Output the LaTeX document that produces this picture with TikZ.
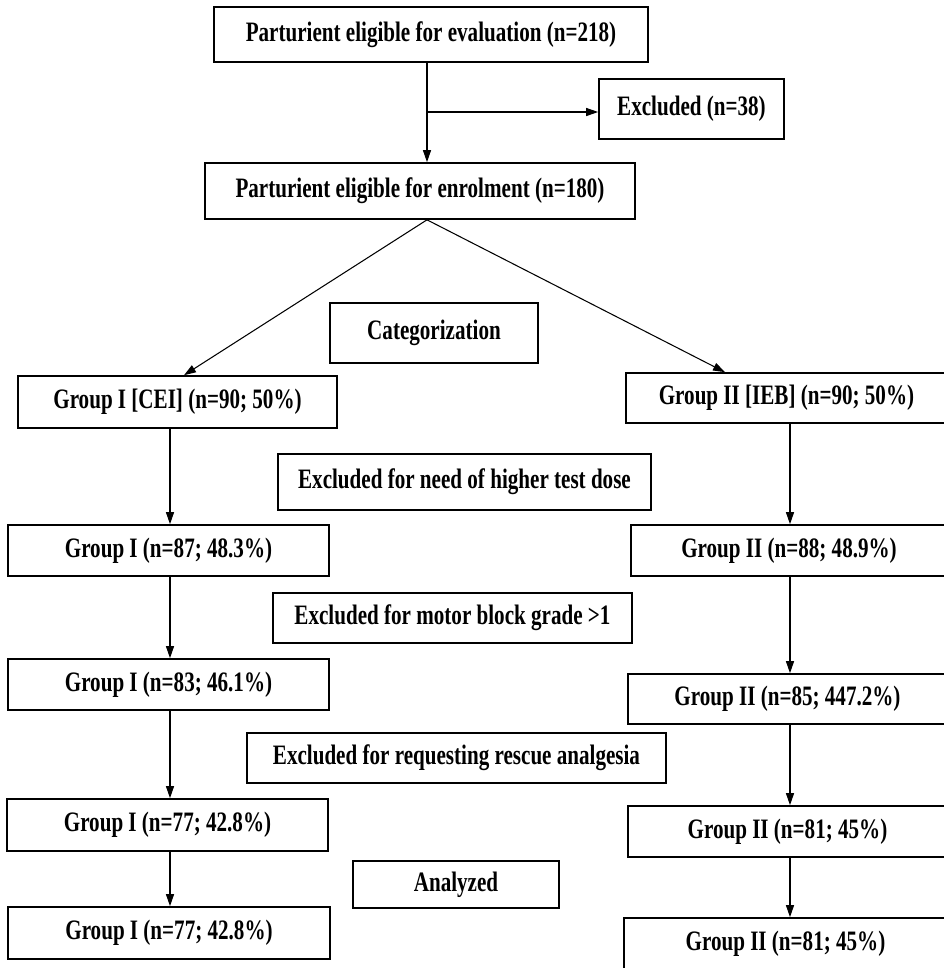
\documentclass[tikz,border=0pt]{standalone}
\usepackage{fontspec}
\setmainfont[FakeStretch=0.75]{Liberation Serif}
\usepackage{tikz}
\usetikzlibrary{arrows.meta,positioning}

\begin{document}
\begin{tikzpicture}[
    x=0.03cm, y=-0.03cm,
    box/.style={rectangle, draw, line width=1.4pt, inner sep=0pt, align=center,
                font=\bfseries\fontsize{24}{28}\selectfont},
    arrow/.style={-{Triangle[length=0.36cm, width=0.24cm]}, line width=0.9pt}
]
  \useasboundingbox (0,0) rectangle (944,968);

  % Screening
  \node[box, minimum width=13.02cm, minimum height=1.65cm] (eval) at (431,34.5) {Parturient eligible for evaluation (n=218)};
  \node[box, minimum width=5.55cm, minimum height=1.8cm] (excl) at (691.5,109) {Excluded (n=38)};
  \node[box, minimum width=12.9cm, minimum height=1.68cm] (enrol) at (420,191) {Parturient eligible for enrolment (n=180)};
  \node[box, minimum width=6.24cm, minimum height=1.8cm] (categ) at (434,333) {Categorization};

  % Group I column
  \node[box, minimum width=9.57cm, minimum height=1.56cm] (gIa) at (177.5,402) {Group I [CEI] (n=90; 50\%)};
  \node[box, minimum width=9.63cm, minimum height=1.53cm] (gIb) at (168.5,550.5) {Group I (n=87; 48.3\%)};
  \node[box, minimum width=9.63cm, minimum height=1.53cm] (gIc) at (168.5,684.5) {Group I (n=83; 46.1\%)};
  \node[box, minimum width=9.63cm, minimum height=1.56cm] (gId) at (167.5,825) {Group I (n=77; 42.8\%)};
  \node[box, minimum width=9.66cm, minimum height=1.56cm] (gIe) at (169,933) {Group I (n=77; 42.8\%)};

  % Group II column
  \node[box, minimum width=9.63cm, minimum height=1.5cm] (gIIa) at (786.5,398) {Group II [IEB] (n=90; 50\%)};
  \node[box, minimum width=9.48cm, minimum height=1.53cm] (gIIb) at (789,550.5) {Group II (n=88; 48.9\%)};
  \node[box, minimum width=9.57cm, minimum height=1.5cm] (gIIc) at (787.5,699) {Group II (n=85; 447.2\%)};
  \node[box, minimum width=9.57cm, minimum height=1.53cm] (gIId) at (787.5,831.5) {Group II (n=81; 45\%)};
  \node[box, minimum width=9.69cm, minimum height=1.56cm] (gIIe) at (785.5,944) {Group II (n=81; 45\%)};

  % Exclusion steps
  \node[box, minimum width=11.19cm, minimum height=1.68cm] (dose) at (464.5,482) {Excluded for need of higher test dose};
  \node[box, minimum width=10.77cm, minimum height=1.5cm] (motor) at (452.5,618) {Excluded for motor block grade {>}1};
  \node[box, minimum width=12.57cm, minimum height=1.5cm] (rescue) at (456.5,758) {Excluded for requesting rescue analgesia};
  \node[box, minimum width=6.18cm, minimum height=1.41cm] (analyzed) at (456,884.5) {Analyzed};

  % Arrows
  \coordinate (split) at (427,112);
  \coordinate (colL) at (170,0);
  \coordinate (colR) at (790,0);
  \draw[arrow] (eval.south -| split) -- (enrol.north -| split);
  \draw[arrow] (split) -- (split -| excl.west);
  \draw[arrow] (enrol.south -| split) -- ([xshift=0.195cm]gIa.north);
  \draw[arrow] (enrol.south -| split) -- ([xshift=-1.845cm]gIIa.north);

  \draw[arrow] (gIa.south -| colL) -- (gIb.north -| colL);
  \draw[arrow] (gIb.south -| colL) -- (gIc.north -| colL);
  \draw[arrow] (gIc.south -| colL) -- (gId.north -| colL);
  \draw[arrow] (gId.south -| colL) -- (gIe.north -| colL);

  \draw[arrow] (gIIa.south -| colR) -- (gIIb.north -| colR);
  \draw[arrow] (gIIb.south -| colR) -- (gIIc.north -| colR);
  \draw[arrow] (gIIc.south -| colR) -- (gIId.north -| colR);
  \draw[arrow] (gIId.south -| colR) -- (gIIe.north -| colR);
\end{tikzpicture}
\end{document}
